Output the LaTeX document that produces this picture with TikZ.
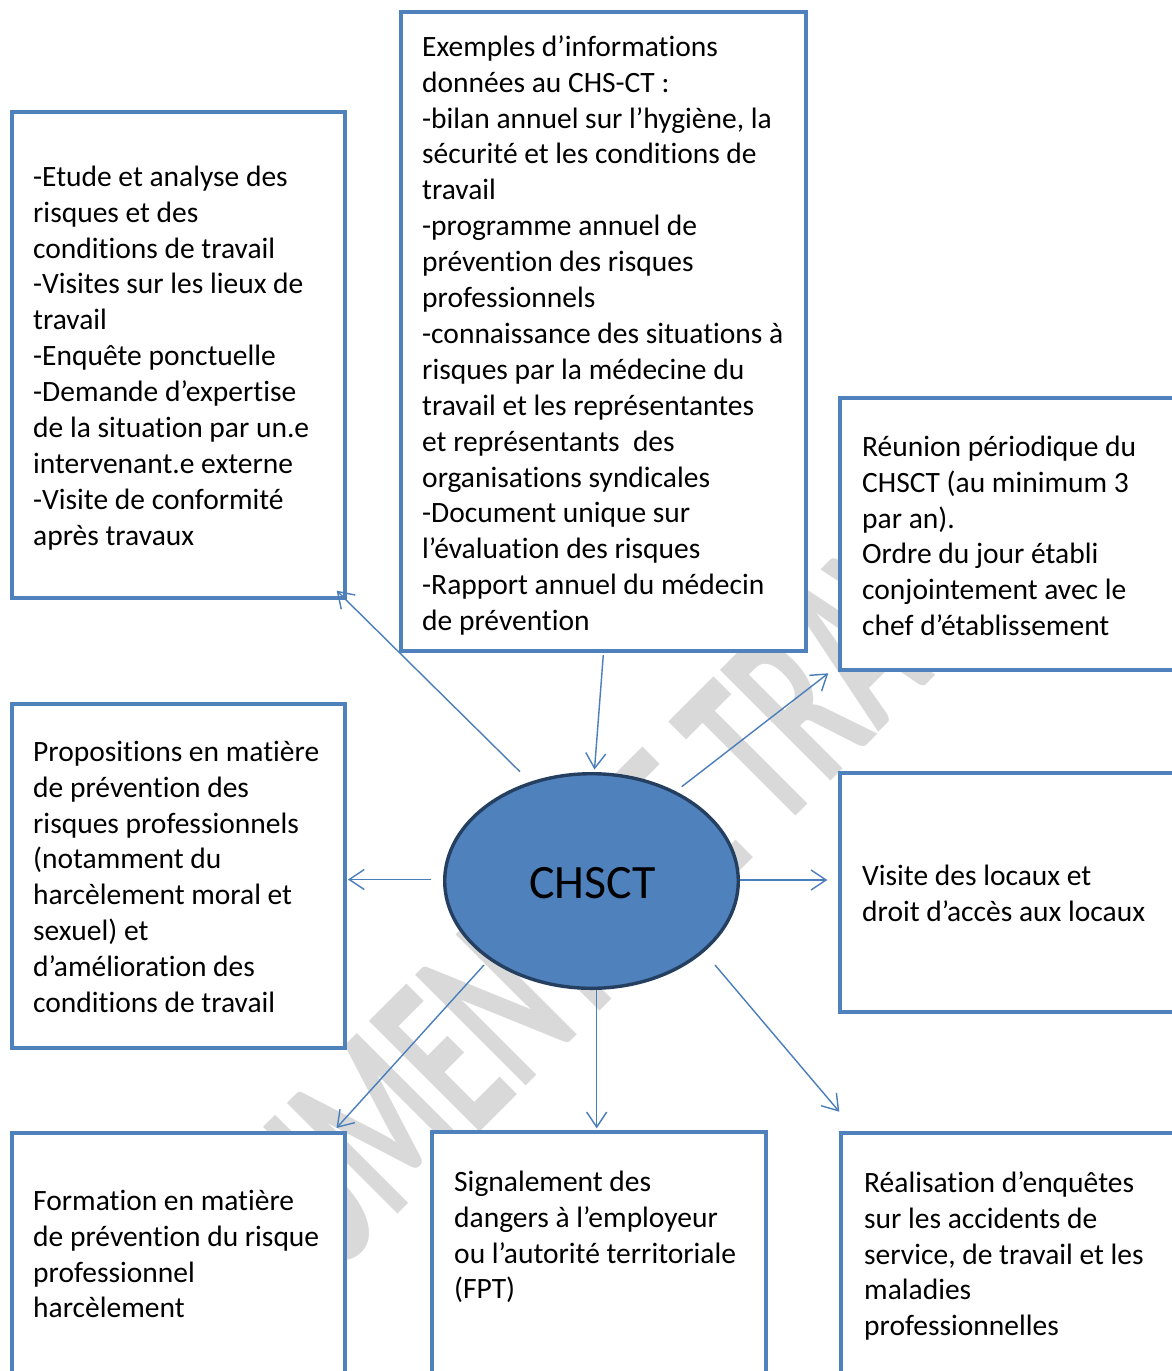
\documentclass[tikz,border=0pt]{standalone}
\usepackage{fontspec}
\setmainfont{Carlito}[Ligatures=NoCommon]
\usetikzlibrary{shapes.geometric,arrows.meta}
\definecolor{boxblue}{HTML}{4F81BD}
\definecolor{arrblue}{HTML}{4A7EBB}
\definecolor{ellborder}{HTML}{243F60}
\definecolor{wmgray}{HTML}{D9D9D9}
\newcommand\txtsize{\fontsize{29.5}{35.9}\selectfont}
\newcommand\fl{\rule{0pt}{25pt}}
\tikzset{
  infobox/.style={draw=boxblue, line width=4.5pt, fill=white, rectangle, inner sep=0pt},
  infotext/.style={anchor=north west, inner sep=0pt, align=left, font=\txtsize, text=black},
  conn/.style={draw=arrblue, line width=1.4pt, -{Straight Barb[length=15pt,width=20pt]}},
}
\begin{document}
\begin{tikzpicture}[x=1pt,y=-1pt]
\clip (0,0) rectangle (1172,1371);
\fill[white] (0,0) rectangle (1172,1371);
% watermark
\node[rotate=45, text=wmgray, inner sep=0pt] (wm) at (575,926)
  {\fontsize{134}{134}\selectfont\bfseries\scalebox{1}[1.8]{DOCUMENT DE TRAVAIL}};
% boxes
\node[infobox, minimum width=333pt, minimum height=486pt] (A) at (178.5,355) {};
\node[infobox, minimum width=405pt, minimum height=639pt] (B) at (603.5,331.5) {};
\node[infobox, minimum width=338pt, minimum height=272pt] (C) at (1009,534) {};
\node[infobox, minimum width=333pt, minimum height=344pt] (D) at (178.5,876) {};
\node[infobox, minimum width=338pt, minimum height=239pt] (E) at (1009,892.5) {};
\node[infobox, minimum width=333pt, minimum height=267pt] (F) at (178.5,1266.5) {};
\node[infobox, minimum width=334pt, minimum height=268pt] (G) at (599,1266) {};
\node[infobox, minimum width=337pt, minimum height=267pt] (H) at (1009.5,1266.5) {};
% centre
\node[ellipse, draw=ellborder, line width=3.4pt, fill=boxblue, minimum width=293.6pt, minimum height=214.6pt, inner sep=0pt] (CH) at (591.5,881) {};
\node[font=\fontsize{47.9}{57}\selectfont, text=black, inner sep=0pt] (CHt) at (592.5,883) {CHSCT};
% texts
\node[infotext] (At) at (33,161) {\fl-Etude et analyse des\\risques et des\\conditions de travail\\-Visites sur les lieux de\\travail\\-Enquête ponctuelle\\-Demande d’expertise\\de la situation par un.e\\intervenant.e externe\\-Visite de conformité\\après travaux};
\node[infotext] (Bt) at (422,31) {\fl Exemples d’informations\\données au CHS-CT :\\-bilan annuel sur l’hygiène, la\\sécurité et les conditions de\\travail\\-programme annuel de\\prévention des risques\\professionnels\\-connaissance des situations à\\risques par la médecine du\\travail et les représentantes\\et représentants~ des\\organisations syndicales\\-Document unique sur\\l’évaluation des risques\\-Rapport annuel du médecin\\de prévention};
\node[infotext] (Ct) at (862,431) {\fl Réunion périodique du\\CHSCT (au minimum 3\\par an).\\Ordre du jour établi\\conjointement avec le\\chef d’établissement};
\node[infotext] (Dt) at (33,736) {\fl Propositions en matière\\de prévention des\\risques professionnels\\(notamment du\\harcèlement moral et\\sexuel) et\\d’amélioration des\\conditions de travail};
\node[infotext] (Et) at (862,860) {\fl Visite des locaux et\\droit d’accès aux locaux};
\node[infotext] (Ft) at (33,1185) {\fl Formation en matière\\de prévention du risque\\professionnel\\harcèlement};
\node[infotext] (Gt) at (454,1166) {\fl Signalement des\\dangers à l’employeur\\ou l’autorité territoriale\\(FPT)};
\node[infotext] (Ht) at (864,1167) {\fl Réalisation d’enquêtes\\sur les accidents de\\service, de travail et les\\maladies\\professionnelles};
% connector end points
\coordinate (s1) at (520,771.7);  \coordinate (e1) at (336.7,590.7);
\coordinate (s2) at (603.3,655);  \coordinate (e2) at (594.5,769.5);
\coordinate (s3) at (681.7,786.7);\coordinate (e3) at (828.3,673.3);
\coordinate (s4) at (430.7,879.5);\coordinate (e4) at (348,879.5);
\coordinate (s5) at (740,880);    \coordinate (e5) at (827.3,880);
\coordinate (s6) at (484,965);    \coordinate (e6) at (336.5,1128);
\coordinate (s7) at (596.7,990);  \coordinate (e7) at (596.7,1128.3);
\coordinate (s8) at (715,965);    \coordinate (e8) at (839.3,1111.7);
\draw[conn] (s1) -- (e1);
\draw[conn] (s2) -- (e2);
\draw[conn] (s3) -- (e3);
\draw[conn] (s4) -- (e4);
\draw[conn] (s5) -- (e5);
\draw[conn] (s6) -- (e6);
\draw[conn] (s7) -- (e7);
\draw[conn] (s8) -- (e8);
\end{tikzpicture}
\end{document}
